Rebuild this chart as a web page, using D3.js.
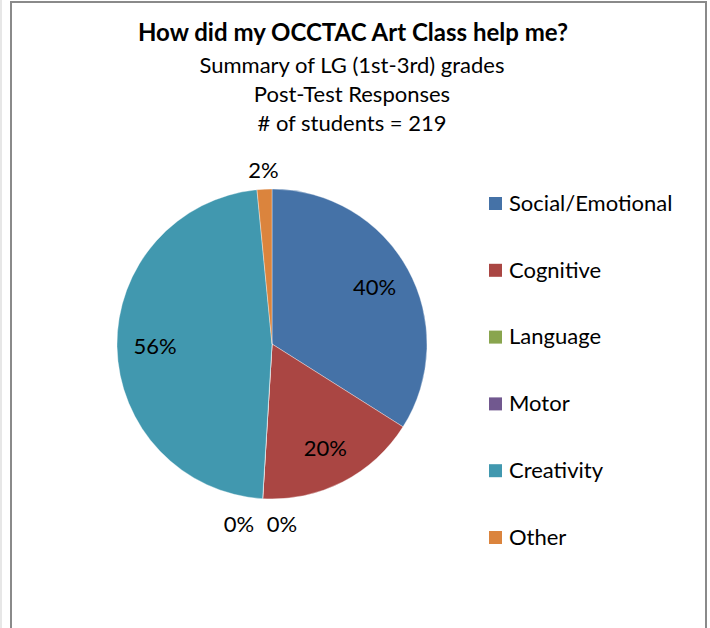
<!DOCTYPE html>
<html><head><meta charset="utf-8">
<script src="https://cdn.jsdelivr.net/npm/d3@7"></script>
<style>body{margin:0;background:#fff}svg{display:block}</style>
</head><body>
<script>
const categories = ["Social/Emotional","Cognitive","Language","Motor","Creativity","Other"];
const counts = [88, 44, 0, 0, 123, 4];
const totalStudents = 219;
const colors = ["#4572A7","#AA4643","#89A54E","#71588F","#4198AF","#DB843D"];
const titleLines = ["How did my OCCTAC Art Class help me?","Summary of LG (1st-3rd) grades","Post-Test Responses","# of students = 219"];

const W = 710, H = 628;
const font = "Lato, 'Open Sans', sans-serif";
const svg = d3.select("body").append("svg").attr("width", W).attr("height", H);
svg.append("rect").attr("x",0.5).attr("y",-1).attr("width",1).attr("height",H+2).attr("fill","#d0d0d0");
svg.append("rect").attr("x",11).attr("y",2).attr("width",695).attr("height",H+10)
  .attr("fill","#fff").attr("stroke","#8a8a8a").attr("stroke-width",2);

svg.append("text").attr("x",353).attr("y",41).attr("text-anchor","middle")
  .attr("font-family",font).attr("font-weight","bold").attr("font-size",24).text(titleLines[0]);
[73,102,131].forEach((y,i)=>svg.append("text").attr("x",352).attr("y",y).attr("text-anchor","middle")
  .attr("font-family",font).attr("font-size",22).text(titleLines[i+1]));

const cx = 272, cy = 344, R = 155;
const pie = d3.pie().sort(null).value(d=>d)(counts);
const arc = d3.arc().innerRadius(0).outerRadius(R);
const g = svg.append("g").attr("transform",`translate(${cx},${cy})`);
g.selectAll("path").data(pie).join("path").attr("d",arc)
  .attr("fill",(d,i)=>colors[i]).attr("stroke","#fff").attr("stroke-width",0.5).attr("stroke-opacity",0.7);

const fmt = v => Math.round(v/totalStudents*100)+"%";
let zeroIdx = 0;
pie.forEach((d,i)=>{
  const mid = (d.startAngle+d.endAngle)/2;
  const span = d.endAngle - d.startAngle;
  let r, dx = 0;
  if (d.value === 0) { r = 181; dx = (zeroIdx++ === 0 ? -22 : 21); }
  else if (span < 0.3) r = 174;
  else r = 117;
  const x = Math.sin(mid)*r + dx, y = -Math.cos(mid)*r;
  g.append("text").attr("x",x).attr("y",y).attr("dy","0.35em").attr("text-anchor","middle")
    .attr("font-family",font).attr("font-size",22).attr("fill","#000").text(fmt(d.value));
});

const lg = svg.append("g");
const ly = d3.scalePoint().domain(categories).range([203,537]);
categories.forEach((c,i)=>{
  const y = ly(c);
  lg.append("rect").attr("x",489).attr("y",y-6).attr("width",13).attr("height",13).attr("fill",colors[i]);
  lg.append("text").attr("x",509).attr("y",y).attr("dy","0.35em").attr("font-family",font).attr("font-size",22).text(c);
});
</script>
</body></html>
